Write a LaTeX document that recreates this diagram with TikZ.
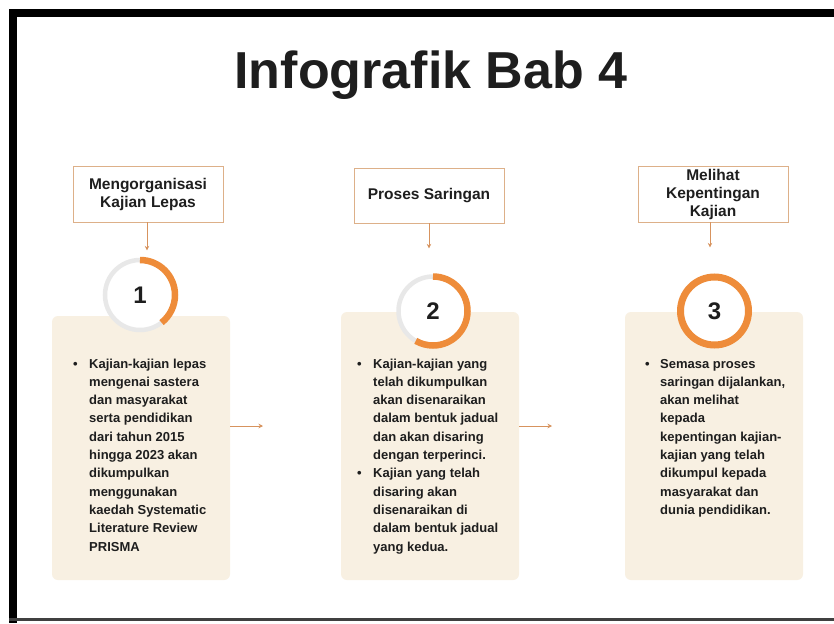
\documentclass[tikz,border=0pt]{standalone}
\usepackage{fontspec}
\setmainfont{Liberation Sans}
\usepackage{array}
\usetikzlibrary{arrows.meta}
\definecolor{ink}{HTML}{1E1E1E}
\definecolor{tanline}{HTML}{DDB089}
\definecolor{arrowc}{HTML}{D7935E}
\definecolor{ringor}{HTML}{EE8C3A}
\definecolor{ringgr}{HTML}{E8E8E8}
\definecolor{beige}{HTML}{F8F0E2}
\tikzset{
  labelbox/.style={draw=tanline, line width=0.8pt, fill=white, minimum width=150pt,
    minimum height=56pt, inner sep=0pt, align=center,
    font=\fontsize{15.5}{18}\selectfont\bfseries, text=ink},
  panel/.style={fill=beige, rounded corners=6pt, minimum width=178pt, inner sep=0pt},
  numring/.style={circle, draw=ringgr, line width=4.5pt, fill=white, inner sep=0pt,
    font=\fontsize{24}{24}\selectfont\bfseries, text=ink},
  arcor/.style={draw=ringor, line width=6.5pt},
  conn/.style={draw=arrowc, line width=0.9pt, -{Stealth[length=4.5pt,width=4.5pt]}},
  body/.style={anchor=base west, inner sep=0pt, text=ink,
    font=\fontsize{13}{18.3}\selectfont\bfseries},
  frame/.style={fill=black, draw=none}
}
\begin{document}
\begin{tikzpicture}[x=1pt,y=1pt]
\useasboundingbox (0,0) rectangle (834,-623);
\fill[white] (0,0) rectangle (834,-623);
% frame
\fill[frame] (9,-9) rectangle (834,-17);
\fill[frame] (9,-9) rectangle (17,-623);
\fill[black!75] (9,-618) rectangle (834,-621);
% title
\node[anchor=base, inner sep=0pt, text=ink, font=\fontsize{52}{52}\selectfont\bfseries] (title) at (431,-89) {Infografik Bab 4};
% panels
\node[panel, minimum height=264pt] (p1) at (141,-448) {};
\node[panel, minimum height=268pt] (p2) at (430,-446) {};
\node[panel, minimum height=268pt] (p3) at (714,-446) {};
% label boxes
\node[labelbox] (lab1) at (148,-194) {Mengorganisasi\\Kajian Lepas};
\node[labelbox, minimum height=55pt] (lab2) at (429,-195.5) {Proses Saringan};
\node[labelbox] (lab3) at (713,-194) {Melihat\\Kepentingan\\Kajian};
% circles
\node[numring, minimum size=70pt] (c1) at (140,-295) {1};
\node[numring, minimum size=69pt] (c2) at (433,-311) {2};
\node[numring, draw=ringor, line width=7pt, minimum size=68pt] (c3) at (714.5,-311) {3};
\draw[arcor] (c1.center) ++(90:35) arc[start angle=90, end angle=-52, radius=35];
\draw[arcor] (c2.center) ++(90:34.5) arc[start angle=90, end angle=-120, radius=34.5];
% connectors
\draw[conn] (lab1.south -| 147,0) -- ++(0,-28);
\draw[conn] (lab2.south) -- ++(0,-25);
\draw[conn] (lab3.south -| 710,0) -- ++(0,-25);
\coordinate (h1) at (263,-426);
\coordinate (h2) at (552,-426);
\draw[conn] (p1.east |- h1) -- (h1);
\draw[conn] (p2.east |- h2) -- (h2);
% body texts
\node[body] (t1) at (73,-368) {\begin{tabular}[t]{@{}p{16pt}@{}l@{}}
\textbullet & Kajian-kajian lepas\\
 & mengenai sastera\\
 & dan masyarakat\\
 & serta pendidikan\\
 & dari tahun 2015\\
 & hingga 2023 akan\\
 & dikumpulkan\\
 & menggunakan\\
 & kaedah Systematic\\
 & Literature Review\\
 & PRISMA
\end{tabular}};
\node[body] (t2) at (357,-368) {\begin{tabular}[t]{@{}p{16pt}@{}l@{}}
\textbullet & Kajian-kajian yang\\
 & telah dikumpulkan\\
 & akan disenaraikan\\
 & dalam bentuk jadual\\
 & dan akan disaring\\
 & dengan terperinci.\\
\textbullet & Kajian yang telah\\
 & disaring akan\\
 & disenaraikan di\\
 & dalam bentuk jadual\\
 & yang kedua.
\end{tabular}};
\node[body] (t3) at (645,-368) {\begin{tabular}[t]{@{}p{15pt}@{}l@{}}
\textbullet & Semasa proses\\
 & saringan dijalankan,\\
 & akan melihat\\
 & kepada\\
 & kepentingan kajian-\\
 & kajian yang telah\\
 & dikumpul kepada\\
 & masyarakat dan\\
 & dunia pendidikan.
\end{tabular}};
\end{tikzpicture}
\end{document}
